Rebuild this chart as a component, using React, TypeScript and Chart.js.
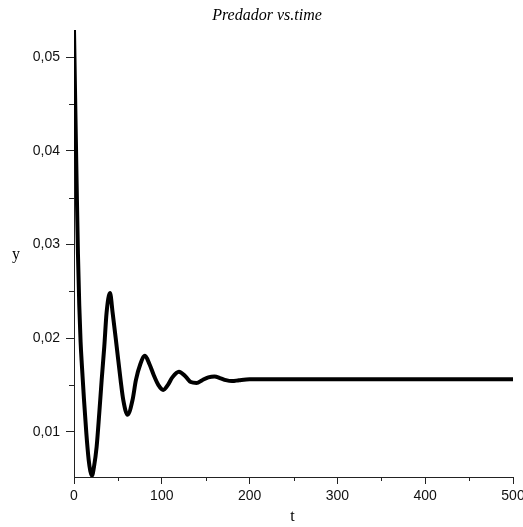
import React, { useEffect, useRef } from "react";
import { Chart, registerables } from "chart.js";

Chart.register(...registerables);

const titleText = "Predador vs.time";
const xLabel = "t";
const yLabel = "y";

const tValues = [0, 1.5, 3, 4.5, 6, 7.5, 9.1, 11.4, 14, 16.7, 18.6, 20.4, 22.7, 25.8, 28.8, 31.5, 34.5, 37.1, 41, 44, 48.6, 53.1, 56.1, 61, 66.7, 70.5, 75.5, 80.8, 86, 91, 96, 101.6, 107, 112, 119.5, 127, 133, 139.6, 146, 153, 160, 167, 173, 180, 188, 200, 250, 300, 350, 400, 450, 500];
const yValues = [0.0529, 0.0445, 0.0365, 0.029, 0.0235, 0.0196, 0.0169, 0.0134, 0.0099, 0.007, 0.0058, 0.0053, 0.0062, 0.0084, 0.012, 0.0155, 0.0191, 0.0227, 0.0248, 0.0227, 0.0191, 0.0155, 0.0134, 0.0118, 0.0134, 0.0155, 0.0172, 0.0181, 0.0172, 0.016, 0.015, 0.01446, 0.015, 0.0158, 0.0164, 0.0159, 0.0153, 0.0152, 0.0155, 0.0158, 0.0159, 0.0157, 0.0155, 0.0154, 0.0155, 0.0156, 0.0156, 0.0156, 0.0156, 0.0156, 0.0156, 0.0156];

const xMajorTicks = [0, 100, 200, 300, 400, 500];
const xMinorTicks = [50, 150, 250, 350, 450];
const yMajorTicks = [0.01, 0.02, 0.03, 0.04, 0.05];
const yMinorTicks = [0.015, 0.025, 0.035, 0.045];

const xMin = 0;
const xMax = 500;
const yMin = 0.00516;
const yMax = 0.0529;

const AXIS_COLOR = "#222";

const decorPlugin = {
  id: "decor",
  afterDraw(chart: any) {
    const ctx = chart.ctx;
    const xs = chart.scales.x;
    const ys = chart.scales.y;
    const area = chart.chartArea;
    ctx.save();
    ctx.strokeStyle = AXIS_COLOR;
    ctx.lineWidth = 1;
    ctx.beginPath();
    xMinorTicks.forEach((v) => {
      const px = Math.round(xs.getPixelForValue(v)) + 0.5;
      ctx.moveTo(px, area.bottom);
      ctx.lineTo(px, area.bottom + 4);
    });
    yMinorTicks.forEach((v) => {
      const py = Math.round(ys.getPixelForValue(v)) + 0.5;
      ctx.moveTo(area.left - 5, py);
      ctx.lineTo(area.left, py);
    });
    ctx.stroke();

    ctx.fillStyle = "#000";
    ctx.textAlign = "center";
    ctx.textBaseline = "middle";
    ctx.font = "italic 16px 'Liberation Serif', 'Times New Roman', serif";
    ctx.fillText(titleText, 267, 16);
    ctx.font = "16px 'Liberation Serif', 'Times New Roman', serif";
    ctx.fillText(yLabel, 16, 255);
    ctx.fillText(xLabel, (area.left + area.right) / 2 - 1, 517);
    ctx.restore();
  },
};

export default function App() {
  const canvasRef = useRef<HTMLCanvasElement | null>(null);

  useEffect(() => {
    if (!canvasRef.current) return;
    const data = tValues.map((t, i) => ({ x: t, y: yValues[i] }));
    const tickFont = { family: "'Liberation Sans', Arial, sans-serif", size: 14 };
    const chart = new Chart(canvasRef.current, {
      type: "line",
      data: {
        datasets: [
          {
            data,
            borderColor: "#000",
            backgroundColor: "#000",
            borderWidth: 4,
            pointRadius: 0,
            cubicInterpolationMode: "monotone",
            fill: false,
          },
        ],
      },
      options: {
        responsive: false,
        animation: false,
        layout: { padding: { left: 0, right: 10, top: 30, bottom: 0 } },
        plugins: {
          legend: { display: false },
          title: { display: false },
          tooltip: { enabled: false },
        },
        scales: {
          x: {
            type: "linear",
            min: xMin,
            max: xMax,
            afterBuildTicks: (scale: any) => {
              scale.ticks = xMajorTicks.map((v) => ({ value: v }));
            },
            afterFit: (scale: any) => {
              scale.height = 50;
              scale.paddingLeft = 0;
              scale.paddingRight = 0;
            },
            grid: {
              display: true,
              drawOnChartArea: false,
              drawTicks: true,
              tickLength: 7,
              tickColor: AXIS_COLOR,
            },
            border: { display: true, color: AXIS_COLOR, width: 1 },
            ticks: {
              color: "#111",
              font: tickFont,
              padding: 4,
              maxRotation: 0,
              autoSkip: false,
              callback: (v: any) => String(v),
            },
          },
          y: {
            type: "linear",
            min: yMin,
            max: yMax,
            afterBuildTicks: (scale: any) => {
              scale.ticks = yMajorTicks.map((v) => ({ value: v }));
            },
            afterFit: (scale: any) => {
              scale.width = 74;
              scale.paddingTop = 0;
              scale.paddingBottom = 0;
            },
            grid: {
              display: true,
              drawOnChartArea: false,
              drawTicks: true,
              tickLength: 8,
              tickColor: AXIS_COLOR,
            },
            border: { display: true, color: AXIS_COLOR, width: 1 },
            ticks: {
              color: "#111",
              font: tickFont,
              padding: 6,
              autoSkip: false,
              callback: (v: any) => Number(v).toFixed(2).replace(".", ","),
            },
          },
        },
      },
      plugins: [decorPlugin],
    } as any);
    return () => chart.destroy();
  }, []);

  return (
    <div style={{ position: "absolute", left: 0, top: 0, width: 523, height: 527, background: "#fff" }}>
      <canvas ref={canvasRef} width={523} height={527} style={{ display: "block" }} />
    </div>
  );
}
